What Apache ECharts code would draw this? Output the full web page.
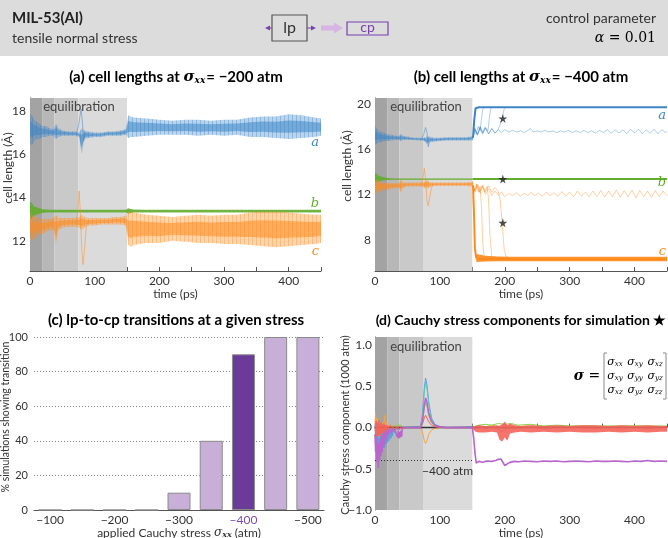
<!DOCTYPE html>
<html>
<head>
<meta charset="utf-8">
<script src="https://cdn.jsdelivr.net/npm/echarts@6/dist/echarts.min.js"></script>
<style>
html, body { margin: 0; padding: 0; background: #fff; }
#chart { width: 668px; height: 538px; }
</style>
</head>
<body>
<div id="chart"></div>
<script>
// ---- data: panel (a), sigma_xx = -200 atm (envelopes of the oscillating cell lengths)
var tA = [0,3,6,10,15,19,25,30,36,40,44,50,60,70,76,80,84,90,100,110,120,130,140,148,152,156,160,180,200,220,240,260,280,300,320,340,360,380,400,420,440,450];
var aLoA = [16.5,16.4,16.6,16.7,16.7,16.8,16.8,16.85,16.85,16.7,16.8,16.85,16.85,16.85,16.8,16.0,16.7,16.75,16.8,16.8,16.85,16.85,16.85,16.9,16.75,16.8,16.8,16.85,16.9,16.9,16.9,16.85,16.9,16.85,16.9,16.8,16.8,16.75,16.7,16.75,16.8,16.85];
var aHiA = [17.9,17.8,17.6,17.5,17.4,17.3,17.3,17.2,17.15,17.4,17.2,17.1,17.05,17.05,17.0,17.2,17.1,17.05,17.0,17.0,17.05,17.05,17.1,17.15,17.8,17.75,17.7,17.65,17.6,17.55,17.6,17.6,17.55,17.6,17.6,17.7,17.75,17.75,17.85,17.8,17.7,17.65];
var bLoA = [13.0,13.05,13.15,13.2,13.25,13.28,13.3,13.31,13.31,13.31,13.31,13.31,13.31,13.31,13.31,13.31,13.31,13.31,13.31,13.31,13.31,13.31,13.31,13.31,13.25,13.28,13.3,13.31,13.31,13.31,13.31,13.31,13.31,13.31,13.31,13.31,13.31,13.31,13.31,13.31,13.31,13.31];
var bHiA = [13.8,13.75,13.6,13.55,13.5,13.45,13.44,13.43,13.43,13.43,13.43,13.43,13.43,13.43,13.43,13.43,13.43,13.43,13.43,13.43,13.43,13.43,13.43,13.43,13.5,13.47,13.44,13.43,13.43,13.43,13.43,13.43,13.43,13.43,13.43,13.43,13.43,13.43,13.43,13.43,13.43,13.43];
var cLoA = [12.1,12.0,12.1,12.2,12.3,12.3,12.4,12.5,12.5,11.9,12.5,12.6,12.65,12.65,12.6,12.5,12.6,12.7,12.7,12.75,12.75,12.75,12.75,12.7,11.8,11.7,11.8,11.9,11.9,12.0,11.95,11.9,11.9,11.85,11.85,11.8,11.75,11.7,11.75,11.8,11.85,11.9];
var cHiA = [13.3,13.2,13.1,13.1,13.0,13.0,13.0,13.0,13.05,13.2,13.05,13.05,13.05,13.05,13.1,13.2,13.1,13.05,13.05,13.05,13.05,13.1,13.1,13.15,13.3,13.35,13.3,13.2,13.15,13.1,13.15,13.2,13.15,13.2,13.2,13.3,13.35,13.35,13.3,13.25,13.2,13.2];
var aSpikeA = [[72,17.0],[75,17.3],[77,17.7],[79,18.1],[81,17.5],[83,16.6],[85,16.9],[88,17.0]];
var cSpikeA = [[72,12.9],[74,13.4],[76,14.3],[78,13.2],[80,11.6],[82,10.9],[84,11.5],[87,12.6],[90,12.9]];

// ---- data: panel (b), sigma_xx = -400 atm
var tB = [0,3,6,10,15,19,25,30,36,40,44,50,60,70,76,80,84,90,100,110,120,130,140,148,151];
var aLoB = [16.4,16.5,16.6,16.6,16.7,16.7,16.75,16.8,16.8,16.7,16.8,16.8,16.8,16.75,16.7,16.4,16.6,16.65,16.7,16.75,16.75,16.75,16.75,16.75,16.8];
var aHiB = [18.0,17.8,17.6,17.5,17.4,17.3,17.25,17.2,17.15,17.3,17.15,17.1,17.0,17.0,17.0,17.1,17.1,17.0,17.0,17.05,17.05,17.05,17.05,17.1,17.2];
var bLoB = [13.0,13.1,13.15,13.2,13.25,13.28,13.3,13.3,13.3,13.3,13.3,13.3,13.3,13.3,13.3,13.3,13.3,13.3,13.3,13.3,13.3,13.3,13.3,13.3,13.3];
var bHiB = [13.9,13.8,13.65,13.55,13.5,13.45,13.42,13.4,13.4,13.4,13.4,13.4,13.4,13.4,13.4,13.4,13.4,13.4,13.4,13.4,13.4,13.4,13.4,13.4,13.4];
var cLoB = [12.2,12.1,12.2,12.3,12.4,12.4,12.5,12.55,12.6,12.2,12.6,12.7,12.7,12.7,12.6,12.5,12.6,12.75,12.75,12.75,12.75,12.75,12.75,12.7,12.6];
var cHiB = [13.4,13.3,13.2,13.1,13.05,13.0,13.0,13.0,13.0,13.3,13.05,13.05,13.05,13.05,13.1,13.3,13.1,13.05,13.05,13.05,13.05,13.05,13.05,13.1,13.2];
var aSpikeB = [[72,16.9],[75,17.3],[78,17.9],[80,17.5],[82,16.2],[84,16.6],[87,16.9]];
var cSpikeB = [[72,12.9],[74,13.5],[76,14.3],[78,13.3],[80,11.5],[82,11.0],[84,11.6],[87,12.6],[90,12.9]];
var aMainB = [[151,17.0],[153,18.6],[155,19.6],[160,19.68],[450,19.68]];
var bMainB = [[151,13.35],[450,13.35]];
var cMainB = [[151,12.8],[152.5,10.5],[154,7.2],[156,6.4],[160,6.3],[450,6.3]];
var tCB = [156,170,190,210,250,300,350,400,450];
var cLoCB = [6.05,6.08,6.1,6.1,6.1,6.1,6.1,6.1,6.1];
var cHiCB = [6.75,6.6,6.52,6.5,6.5,6.5,6.5,6.5,6.5];
var aT1 = [[151,17.0],[153,17.9],[156,17.3],[159,18.0],[162,17.6],[164,18.6],[166,19.5],[169,19.68],[180,19.68]];
var aT2 = [[151,17.0],[154,17.7],[158,17.3],[162,18.0],[166,17.5],[170,17.95],[174,17.6],[176,18.6],[178,19.5],[181,19.68],[195,19.68]];
var aT3 = [[151,17.0],[154,17.8],[158,17.3],[162,17.9],[166,17.4],[170,17.85],[175,17.35],[180,17.8],[185,17.4],[190,17.75],[193,18.2],[196,18.7],[199,19.5],[202,19.68],[215,19.68]];
var aT4 = [[151,17.0],[154,17.8],[158,17.2],[162,17.9],[166,17.3],[170,17.85],[175,17.35],[180,17.8],[185,17.4],[190,17.7],[195,17.45],[200,17.7],[206,17.5],[212,17.65],[218,17.5],[224,17.6],[230,17.45],[236,17.65],[240,17.8],[244,17.5],[250,17.6],[256,17.5],[262,17.65],[268,17.5],[274,17.6],[280,17.45],[286,17.6],[292,17.5],[298,17.65],[304,17.45],[310,17.6],[316,17.45],[322,17.65],[328,17.45],[334,17.6],[340,17.4],[346,17.65],[352,17.45],[358,17.7],[364,17.4],[370,17.7],[376,17.4],[382,17.7],[388,17.35],[394,17.75],[400,17.4],[406,17.75],[412,17.35],[418,17.7],[424,17.4],[430,17.75],[436,17.35],[442,17.7],[448,17.45],[450,17.55]];
var cT1 = [[151,12.8],[153,12.3],[156,12.9],[159,12.2],[162,12.7],[164,11.0],[166,7.8],[168,6.5],[175,6.35]];
var cT2 = [[151,12.8],[154,12.3],[157,12.9],[161,12.2],[165,12.8],[169,12.2],[173,12.7],[175,11.5],[177,8.5],[180,6.5],[188,6.35]];
var cT3 = [[151,12.8],[154,12.3],[158,12.9],[162,12.3],[166,12.8],[170,12.25],[175,12.75],[180,12.2],[185,12.6],[190,12.25],[193,11.5],[196,9.5],[199,7.2],[202,6.5],[210,6.35]];
var cT4 = [[151,12.8],[154,12.2],[158,12.8],[162,12.1],[166,12.7],[170,12.0],[175,12.5],[180,11.9],[185,12.3],[190,11.95],[195,12.2],[200,11.8],[206,12.1],[212,11.9],[218,12.15],[224,11.85],[230,12.1],[236,11.9],[240,12.2],[246,11.9],[252,12.1],[258,11.85],[264,12.2],[270,11.9],[276,12.15],[282,11.85],[288,12.25],[294,11.85],[300,12.2],[306,11.8],[312,12.3],[318,11.85],[324,12.2],[330,11.8],[336,12.3],[342,11.8],[348,12.35],[354,11.75],[360,12.3],[366,11.8],[372,12.4],[378,11.75],[384,12.35],[390,11.8],[396,12.4],[402,11.7],[408,12.35],[414,11.8],[420,12.3],[426,11.75],[432,12.35],[438,11.8],[444,12.3],[450,11.9]];
var starPts = [[197,18.7],[197,13.35],[197,9.5]];

// ---- data: panel (c)
var stressCats = ['\u2212100','\u2212150','\u2212200','\u2212250','\u2212300','\u2212350','\u2212400','\u2212450','\u2212500'];
var pctTransition = [0,0,0,0,10,40,90,100,100];

// ---- data: panel (d), stress components (1000 atm)
var sxxD = [[0,-0.08],[1,-0.3],[2,-0.12],[3,-0.42],[4,-0.2],[5,-0.49],[6,-0.18],[7,-0.4],[8,-0.14],[9,-0.34],[10,-0.1],[11,-0.3],[12,-0.09],[13,-0.24],[14,-0.06],[15,-0.2],[16,-0.05],[17,-0.14],[18,-0.03],[20,-0.09],[22,-0.02],[25,-0.06],[28,-0.01],[31,-0.04],[34,-0.02],[35,-0.12],[36,-0.04],[37,-0.13],[38,-0.05],[39,-0.12],[40,-0.04],[41,-0.11],[42,-0.01],[46,0],[70,0],[73,0.07],[76,0.27],[78,0.36],[80,0.31],[83,0.17],[87,0.08],[92,0.03],[100,0.01],[110,0],[150,0],[152,-0.12],[154,-0.3],[156,-0.43],[160,-0.41],[166,-0.42],[172,-0.405],[180,-0.41],[186,-0.4],[190,-0.385],[194,-0.38],[197,-0.42],[200,-0.46],[203,-0.45],[207,-0.425],[214,-0.41],[222,-0.415],[230,-0.405],[240,-0.41],[250,-0.415],[260,-0.405],[270,-0.41],[280,-0.405],[290,-0.415],[300,-0.41],[310,-0.405],[320,-0.41],[330,-0.415],[340,-0.405],[350,-0.41],[360,-0.41],[370,-0.405],[380,-0.41],[390,-0.415],[400,-0.405],[410,-0.41],[420,-0.4],[430,-0.41],[440,-0.405],[450,-0.41]];
var syyD = [[0,0.05],[1,-0.18],[2,0.08],[3,-0.3],[4,-0.05],[5,-0.36],[6,-0.08],[7,-0.32],[8,0.0],[9,-0.3],[10,-0.04],[11,-0.28],[12,0.02],[13,-0.24],[14,-0.04],[15,-0.24],[16,0.0],[17,-0.2],[18,-0.02],[19,-0.18],[20,-0.04],[21,-0.16],[22,-0.02],[23,-0.14],[24,-0.02],[25,-0.12],[26,-0.01],[27,-0.1],[28,-0.02],[30,-0.06],[32,0],[35,-0.03],[38,0.01],[42,-0.01],[46,0],[70,0.01],[73,0.15],[76,0.48],[78,0.6],[80,0.52],[83,0.3],[87,0.12],[92,0.04],[100,0.01],[110,0],[150,0.01],[155,-0.02],[160,0.01],[170,-0.01],[180,0.01],[190,-0.02],[195,-0.05],[200,-0.03],[205,0.0],[220,-0.01],[240,0.01],[260,-0.01],[280,0.01],[300,0],[320,0.01],[340,-0.01],[360,0.01],[380,0],[400,0.01],[420,-0.01],[440,0.01],[450,0]];
var sxyD = [[0,0.02],[2,-0.1],[4,0.05],[6,-0.12],[8,0.03],[10,-0.08],[12,0.04],[14,-0.06],[16,0.02],[18,-0.04],[22,0.01],[30,0],[70,0.01],[73,0.14],[76,0.44],[78,0.55],[80,0.48],[83,0.28],[87,0.11],[92,0.04],[100,0.01],[110,0],[150,0],[170,0.01],[200,-0.01],[250,0.01],[300,0],[350,0.01],[400,0],[450,0.01]];
var sxzD = [[0,0.05],[1,0.18],[2,-0.02],[3,0.12],[4,0.02],[5,0.1],[6,-0.03],[7,0.05],[9,0.0],[11,0.06],[13,0.01],[15,0.15],[16,0.02],[18,0.07],[20,0.0],[22,0.04],[25,0.0],[30,0.02],[35,0],[70,0],[73,-0.05],[76,-0.16],[78,-0.19],[80,-0.16],[83,-0.08],[87,-0.03],[92,-0.01],[100,0],[150,0],[160,0.02],[170,0.01],[180,0.03],[190,0.01],[200,0.04],[210,0.01],[240,0.02],[280,0.01],[320,0.02],[360,0.01],[400,0.02],[450,0.01]];
var syzD = [[0,0.01],[5,-0.02],[10,0.02],[20,0],[36,0.03],[38,0.02],[40,0.03],[42,0],[70,0],[73,0.08],[76,0.24],[78,0.3],[80,0.26],[83,0.14],[87,0.06],[92,0.02],[100,0],[150,0],[155,0.02],[160,0.03],[170,0.04],[180,0.03],[190,0.05],[200,0.04],[210,0.05],[220,0.03],[240,0.04],[260,0.02],[280,0.03],[300,0.02],[340,0.02],[380,0.02],[420,0.02],[450,0.02]];
var szzD = [[0,0.02],[1,-0.1],[2,0.08],[3,-0.12],[4,0.06],[5,-0.1],[6,0.09],[7,-0.08],[8,0.05],[9,-0.1],[10,0.06],[11,-0.07],[12,0.04],[13,-0.08],[14,0.05],[15,-0.06],[16,0.03],[17,-0.05],[18,0.03],[19,-0.06],[20,0.02],[22,-0.04],[24,0.03],[26,-0.04],[28,0.02],[30,-0.03],[32,0.02],[34,-0.02],[36,0.02],[38,-0.03],[40,0.01],[44,0],[70,0],[73,0.04],[76,0.12],[78,0.15],[80,0.13],[83,0.07],[87,0.03],[92,0.01],[100,0],[150,0]];
var tRed = [150,155,160,170,180,188,192,196,200,204,208,215,225,240,260,280,300,320,340,360,380,400,420,440,450];
var redLo = [-0.01,-0.05,-0.06,-0.06,-0.05,-0.06,-0.15,-0.17,-0.12,-0.16,-0.07,-0.06,-0.05,-0.06,-0.05,-0.06,-0.05,-0.06,-0.06,-0.05,-0.06,-0.05,-0.06,-0.05,-0.05];
var redHi = [0.01,0.02,0.03,0.02,0.02,0.03,0.02,0.04,0.07,0.03,0.05,0.03,0.02,0.03,0.02,0.03,0.02,0.03,0.03,0.02,0.03,0.02,0.03,0.02,0.02];

var eqBounds = [0, 18.75, 37.5, 75, 150];
var eqShades = ['#a3a3a3', '#b7b7b7', '#c9c9c9', '#dbdbdb'];

var FONT = 'Lato';
var SERIF = 'DejaVu Serif';
var cA = '#3d85c6', cB = '#62ad2e', cC = '#ff8a1c';
var cXX = '#b966cc', cXY = '#5ec6bb', cXZ = '#f8a43e', cYY = '#5c9ee0', cYZ = '#8fd04c', cZZ = '#f4645a';

var chart = echarts.init(document.getElementById('chart'));

// soft vertical-stripe fill so the envelopes read as fast oscillations
function stripes(color) {
  var cv = document.createElement('canvas');
  cv.width = 4; cv.height = 4;
  var g = cv.getContext('2d');
  g.fillStyle = color;
  g.globalAlpha = 0.35; g.fillRect(0, 0, 4, 4);
  g.globalAlpha = 0.35; g.fillRect(0, 0, 1, 4);
  return { image: cv, repeat: 'repeat' };
}

// filled envelope between lo and hi, drawn as one polygon through the axis scales
function band(gi, t, lo, hi, fill, op, z) {
  return {
    type: 'custom', xAxisIndex: gi, yAxisIndex: gi, silent: true, z: z, clip: true,
    data: t.map(function (x, i) { return [x, lo[i], hi[i]]; }),
    encode: { x: 0, y: [1, 2] },
    renderItem: function (params, api) {
      if (params.dataIndex !== 0) return null;
      var top = t.map(function (x, i) { return api.coord([x, hi[i]]); });
      var bot = t.map(function (x, i) { return api.coord([x, lo[i]]); }).reverse();
      return { type: 'polygon', shape: { points: top.concat(bot) }, style: { fill: fill, opacity: op } };
    }
  };
}

function bands(gi, t, lo, hi, color, z, plainFill) {
  var mid = lo.map(function (v, i) { return (v + hi[i]) / 2; });
  var half = lo.map(function (v, i) { return (hi[i] - v) * 0.25; });
  return [
    plainFill ? band(gi, t, lo, hi, color, 0.85, z) : band(gi, t, lo, hi, stripes(color), 1, z),
    band(gi, t, mid.map(function (m, i) { return m - half[i]; }), mid.map(function (m, i) { return m + half[i]; }), color, 0.55, z + 1)
  ];
}

function line(gi, data, color, width, op, z) {
  return { type: 'line', xAxisIndex: gi, yAxisIndex: gi, data: data, symbol: 'none', silent: true,
    lineStyle: { color: color, width: width, opacity: op }, z: z };
}

function shading(gi) {
  var d = [];
  for (var i = 0; i < 4; i++) {
    d.push([{ xAxis: eqBounds[i], itemStyle: { color: eqShades[i] } }, { xAxis: eqBounds[i + 1] }]);
  }
  return { type: 'line', xAxisIndex: gi, yAxisIndex: gi, data: [], silent: true, z: 1,
    markArea: { silent: true, data: d } };
}

var axisCommon = {
  axisLine: { lineStyle: { color: '#555', width: 1 } },
  axisTick: { inside: true, length: 4, lineStyle: { color: '#555' } },
  axisLabel: { color: '#333', fontFamily: FONT, fontSize: 12, margin: 4 },
  splitLine: { show: false },
  nameTextStyle: { color: '#333', fontFamily: FONT, fontSize: 12 }
};

function timeAxis(gi, gap) {
  return echarts.util.merge({
    type: 'value', gridIndex: gi, min: 0, max: 450,
    name: 'time (ps)', nameLocation: 'middle', nameGap: gap,
    axisLabel: { customValues: [0, 100, 200, 300, 400] },
    axisTick: { customValues: [50, 100, 150, 200, 250, 300, 350, 400, 450] }
  }, axisCommon, false);
}

function fmtDec(v) { return (v < 0 ? '\u2212' : '') + Math.abs(v).toFixed(1); }

function titleRich(sz) {
  return {
    t: { fontFamily: FONT, fontWeight: 'bold', fontSize: sz, color: '#222' },
    s: { fontFamily: SERIF, fontStyle: 'italic', fontWeight: 'bold', fontSize: sz, color: '#222' },
    u: { fontFamily: SERIF, fontStyle: 'italic', fontWeight: 'bold', fontSize: 9, color: '#222', padding: [7, 1, 0, 0] }
  };
}

function title(x, y, txt, sz) {
  return { type: 'text', x: x, y: y, z: 50,
    style: { text: txt, rich: titleRich(sz || 15), align: 'center', verticalAlign: 'middle' } };
}
function plain(x, y, txt, opt) {
  return { type: 'text', x: x, y: y, z: 50, silent: true,
    style: echarts.util.merge({ text: txt, fontFamily: FONT, fontSize: 13, fill: '#333', align: 'center', verticalAlign: 'middle' }, opt || {}, true) };
}
function vname(x, y, txt, sz) {
  var el = plain(x, y, txt, { fontSize: sz });
  el.rotation = Math.PI / 2;
  return el;
}
function seriesLetter(x, y, txt, col) {
  return plain(x, y, txt, { fontFamily: SERIF, fontStyle: 'italic', fontSize: 13, fill: col, align: 'right' });
}

function matrixEntry(x, y, sub, col) {
  return { type: 'text', x: x, y: y, z: 50,
    style: { text: '{s|\u03c3}{u|' + sub + '}', align: 'center', verticalAlign: 'middle',
      rich: {
        s: { fontFamily: SERIF, fontStyle: 'italic', fontSize: 11, color: col },
        u: { fontFamily: SERIF, fontStyle: 'italic', fontSize: 7, color: col, padding: [4, 0, 0, 0] }
      } } };
}

var series = [];
// (a)
series.push(shading(0));
series = series.concat(bands(0, tA, aLoA, aHiA, cA, 3));
series = series.concat(bands(0, tA, bLoA, bHiA, cB, 3, true));
series = series.concat(bands(0, tA, cLoA, cHiA, cC, 3));
series.push(line(0, aSpikeA, cA, 1, 0.5, 6));
series.push(line(0, cSpikeA, cC, 1, 0.5, 6));
// (b)
series.push(shading(1));
series = series.concat(bands(1, tB, aLoB, aHiB, cA, 3));
series = series.concat(bands(1, tB, bLoB, bHiB, cB, 3, true));
series = series.concat(bands(1, tB, cLoB, cHiB, cC, 3));
series.push(band(1, tCB, cLoCB, cHiCB, cC, 0.9, 4));
series.push(line(1, aSpikeB, cA, 1, 0.5, 6));
series.push(line(1, cSpikeB, cC, 1, 0.5, 6));
[aT1, aT2, aT3, aT4].forEach(function (d) { series.push(line(1, d, cA, 1, 0.4, 6)); });
[cT1, cT2, cT3, cT4].forEach(function (d) { series.push(line(1, d, cC, 1, 0.4, 6)); });
series.push(line(1, aMainB, cA, 2, 1, 7));
series.push(line(1, bMainB, cB, 2, 1, 7));
series.push(line(1, cMainB, cC, 2, 1, 7));
series.push({ type: 'scatter', xAxisIndex: 1, yAxisIndex: 1, data: starPts, silent: true, z: 9,
  symbol: 'path://M50,0 L61,35 L98,35 L68,57 L79,91 L50,70 L21,91 L32,57 L2,35 L39,35 Z',
  symbolSize: 9, itemStyle: { color: '#222' } });
// (c)
series.push({ type: 'bar', xAxisIndex: 2, yAxisIndex: 2, barWidth: 23, silent: true, z: 3,
  data: pctTransition.map(function (v, i) {
    return { value: v, itemStyle: { color: stressCats[i] === '\u2212400' ? '#6b3b99' : '#c8afd8' } };
  }),
  itemStyle: { borderColor: '#8a8a8a', borderWidth: 1 } });
// (d)
series.push(shading(3));
series.push(line(3, sxzD, cXZ, 1, 1, 4));
series.push(line(3, syyD, cYY, 1, 1, 4));
series.push(line(3, sxyD, cXY, 1, 1, 4));
series.push(line(3, syzD, cYZ, 1, 1, 4));
series.push(line(3, szzD, cZZ, 1, 1, 5));
series.push(band(3, tRed, redLo, redHi, cZZ, 0.9, 5));
var sxxSeries = line(3, sxxD, cXX, 1.6, 1, 6);
sxxSeries.markLine = {
  silent: true, symbol: 'none', label: { show: false },
  data: [
    [{ coord: [0, -0.4], lineStyle: { type: [1, 2], color: '#333', width: 1 } }, { coord: [150, -0.4] }],
    [{ coord: [0, 0], lineStyle: { type: 'solid', color: '#333', width: 1.3 } }, { coord: [450, 0] }]
  ]
};
series.push(sxxSeries);

var option = {
  animation: false,
  backgroundColor: '#ffffff',
  grid: [
    { left: 30, top: 98, width: 291, height: 173, outerBoundsMode: 'none' },
    { left: 375, top: 98, width: 292, height: 173, outerBoundsMode: 'none' },
    { left: 34, top: 337, width: 290, height: 173, outerBoundsMode: 'none' },
    { left: 375, top: 337, width: 292, height: 173, outerBoundsMode: 'none' }
  ],
  xAxis: [
    timeAxis(0, 15),
    timeAxis(1, 15),
    echarts.util.merge({
      type: 'category', gridIndex: 2, data: stressCats,
      name: '{n|applied Cauchy stress }{s|\u03c3}{u|xx}{n| (atm)}', nameLocation: 'middle', nameGap: 14,
      nameTextStyle: { rich: {
        n: { fontFamily: FONT, fontSize: 12, color: '#333' },
        s: { fontFamily: SERIF, fontStyle: 'italic', fontSize: 12, color: '#333' },
        u: { fontFamily: SERIF, fontStyle: 'italic', fontWeight: 'bold', fontSize: 8, color: '#333', padding: [5, 0, 0, 0] }
      } },
      axisTick: { show: false },
      axisLabel: { margin: 4, color: function (v) { return v === '\u2212400' ? '#7b4bb5' : '#333'; } }
    }, axisCommon, false),
    timeAxis(3, 14)
  ],
  yAxis: [
    echarts.util.merge({ type: 'value', gridIndex: 0, min: 10.6, max: 18.6,
      axisLabel: { customValues: [12, 14, 16, 18] },
      axisTick: { customValues: [11, 12, 13, 14, 15, 16, 17, 18] } }, axisCommon, false),
    echarts.util.merge({ type: 'value', gridIndex: 1, min: 5.25, max: 20.5,
      axisLabel: { customValues: [8, 12, 16, 20] },
      axisTick: { customValues: [6, 8, 10, 12, 14, 16, 18, 20] } }, axisCommon, false),
    echarts.util.merge({ type: 'value', gridIndex: 2, min: 0, max: 100, interval: 20,
      axisLabel: { margin: 6, fontSize: 11 },
      axisLine: { show: false }, axisTick: { show: false },
      splitLine: { show: true, lineStyle: { type: [1, 2], color: '#888', width: 1 } } }, axisCommon, false),
    echarts.util.merge({ type: 'value', gridIndex: 3, min: -1, max: 1.1,
      axisLabel: { margin: 3, customValues: [-1, -0.5, 0, 0.5, 1], formatter: fmtDec },
      axisTick: { customValues: [-0.75, -0.5, -0.25, 0, 0.25, 0.5, 0.75, 1] } }, axisCommon, false)
  ],
  series: series,
  graphic: [
    // header
    { type: 'rect', shape: { x: 0, y: 0, width: 668, height: 56 }, style: { fill: '#dcdcdc' }, z: 0 },
    plain(12, 18, 'MIL-53(Al)', { fontWeight: 'bold', fontSize: 15, fill: '#222', align: 'left' }),
    plain(12, 38, 'tensile normal stress', { fontSize: 14, align: 'left' }),
    plain(656, 18, 'control parameter', { fontSize: 14, align: 'right' }),
    { type: 'text', x: 656, y: 38, z: 50, style: { text: '{a|\u03b1}{n| = 0.01}', align: 'right', verticalAlign: 'middle',
      rich: { a: { fontFamily: SERIF, fontStyle: 'italic', fontSize: 14, color: '#333' }, n: { fontFamily: SERIF, fontSize: 14, color: '#333' } } } },
    { type: 'rect', shape: { x: 272, y: 15, width: 35, height: 26 }, style: { fill: 'none', stroke: '#555', lineWidth: 1.2 }, z: 50 },
    plain(289.5, 28, 'lp', { fontSize: 16 }),
    { type: 'line', shape: { x1: 269, y1: 28, x2: 272, y2: 28 }, style: { stroke: '#7a3fb0', lineWidth: 1 }, z: 50 },
    { type: 'polygon', shape: { points: [[265, 28], [270, 25.5], [270, 30.5]] }, style: { fill: '#7a3fb0' }, z: 50 },
    { type: 'line', shape: { x1: 307, y1: 28, x2: 312, y2: 28 }, style: { stroke: '#7a3fb0', lineWidth: 1 }, z: 50 },
    { type: 'polygon', shape: { points: [[316, 28], [311, 25.5], [311, 30.5]] }, style: { fill: '#7a3fb0' }, z: 50 },
    { type: 'polygon', shape: { points: [[321, 25.5], [334, 25.5], [334, 22.5], [343, 28], [334, 33.5], [334, 30.5], [321, 30.5]] }, style: { fill: '#d6b4e3' }, z: 50 },
    { type: 'rect', shape: { x: 347, y: 22, width: 41, height: 13 }, style: { fill: 'none', stroke: '#7a3fb0', lineWidth: 1.2 }, z: 50 },
    plain(367.5, 27.5, 'cp', { fontSize: 14, fill: '#7a3fb0' }),
    // panel titles
    title(176, 77, '{t|(a) cell lengths at }{s|\u03c3}{u|xx}{t|= \u2212200 atm}'),
    title(521, 77, '{t|(b) cell lengths at }{s|\u03c3}{u|xx}{t|= \u2212400 atm}'),
    title(176, 320, '{t|(c) lp-to-cp transitions at a given stress}'),
    title(521, 320, '{t|(d) Cauchy stress components for simulation \u2605}', 14),
    // y-axis names
    vname(8, 168, 'cell length (\u00c5)', 12),
    vname(347, 166, 'cell length (\u00c5)', 12),
    vname(6, 417, '% simulations showing transition', 10.5),
    vname(345, 425, 'Cauchy stress component (1000 atm)', 11),
    // in-plot annotations
    plain(79, 107, 'equilibration', { fill: '#444' }),
    plain(426, 107, 'equilibration', { fill: '#444' }),
    plain(426, 347, 'equilibration', { fill: '#444' }),
    plain(473, 471, '\u2212400 atm', { align: 'right', fontSize: 12 }),
    seriesLetter(319, 143, 'a', cA), seriesLetter(319, 204, 'b', cB), seriesLetter(319, 252, 'c', cC),
    seriesLetter(666, 116, 'a', cA), seriesLetter(666, 183, 'b', cB), seriesLetter(666, 252, 'c', cC),
    // stress tensor legend
    { type: 'text', x: 587, y: 376, z: 50, style: { text: '{s|\u03c3}{e| =}', align: 'center', verticalAlign: 'middle',
      rich: { s: { fontFamily: SERIF, fontStyle: 'italic', fontWeight: 'bold', fontSize: 14, color: '#222' }, e: { fontFamily: SERIF, fontSize: 14, color: '#222' } } } },
    { type: 'polyline', shape: { points: [[607, 353], [604, 353], [604, 399], [607, 399]] }, style: { stroke: '#888', lineWidth: 1, fill: 'none' }, z: 50 },
    { type: 'polyline', shape: { points: [[663, 353], [666, 353], [666, 399], [663, 399]] }, style: { stroke: '#888', lineWidth: 1, fill: 'none' }, z: 50 },
    matrixEntry(615, 362, 'xx', cXX), matrixEntry(635, 362, 'xy', cXY), matrixEntry(655, 362, 'xz', cXZ),
    matrixEntry(615, 376, 'xy', cXY), matrixEntry(635, 376, 'yy', cYY), matrixEntry(655, 376, 'yz', cYZ),
    matrixEntry(615, 390, 'xz', cXZ), matrixEntry(635, 390, 'yz', cYZ), matrixEntry(655, 390, 'zz', cZZ)
  ]
};
chart.setOption(option);
</script>
</body>
</html>
